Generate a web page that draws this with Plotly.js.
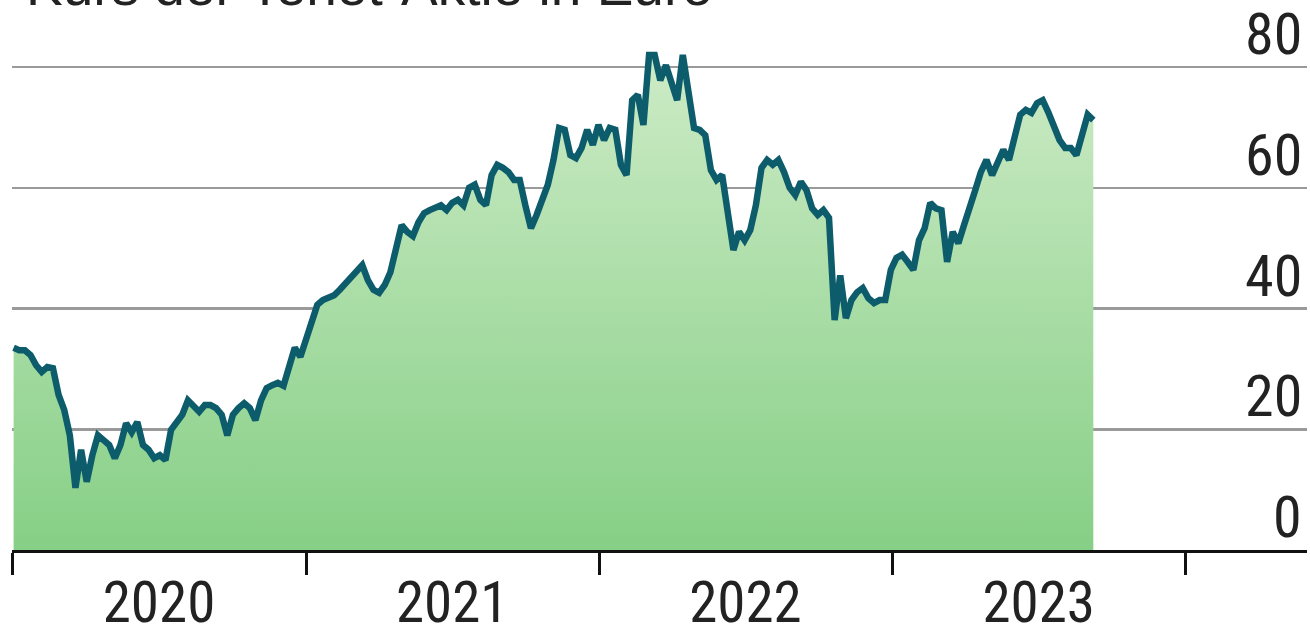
<!DOCTYPE html>
<html>
<head>
<meta charset="utf-8">
<script src="https://cdn.plot.ly/plotly-3.0.1.min.js"></script>
<style>html,body{margin:0;padding:0;background:#fff;}#chart{width:1310px;height:628px;}</style>
</head>
<body>
<div id="chart"></div>
<script>
// Weekly closing prices (Euro), first week ending 2020-01-03
const firstWeek = '2020-01-03';
const prices2020 = [33.5,33.1,33.1,32.3,30.6,29.5,30.3,30.1,25.7,23.2,19.0,10.3,16.6,11.3,15.7,19.0,18.2,17.4,15.2,17.4,21.0,19.5,21.2,17.4,16.6,15.2,15.7,14.9,19.9,21.2,22.4,24.8,24.0,22.9,24.0,24.0,23.5,22.4,19.0,22.4,23.5,24.3,23.5,21.5,24.8,26.8,27.3,27.7,27.2,30.6,33.5,32.0];
const prices2021 = [34.8,37.8,40.6,41.4,41.7,42.2,43.1,44.2,45.1,46.0,47.2,44.7,43.1,42.6,43.9,46.0,49.7,53.8,52.7,52.0,54.3,55.8,56.3,56.6,57.1,56.3,57.5,58.0,57.1,60.0,60.5,58.0,57.1,62.1,63.8,63.3,62.6,61.3,61.3,57.1,53.3,55.5,58.3,60.5,64.6,69.9,69.6,65.4,64.9,66.6,69.6,67.1];
const prices2022 = [70.4,67.9,69.9,69.6,63.8,62.1,74.5,75.4,70.4,82.0,82.0,77.8,80.3,77.0,74.5,82.0,75.4,69.9,69.6,68.7,62.9,61.3,62.1,56.3,49.7,52.7,51.3,53.0,57.1,63.3,64.6,63.8,64.6,62.6,60.0,58.8,61.0,59.6,56.6,55.5,56.3,55.0,38.1,45.5,38.4,41.4,42.7,43.4,41.7,40.9,41.4,41.4];
const prices2023 = [46.4,48.4,48.9,47.7,46.4,51.3,53.3,57.5,56.6,56.3,47.7,52.7,50.8,53.8,57.1,59.6,62.6,64.6,62.1,64.3,66.3,64.6,67.9,72.1,72.9,72.4,74.0,74.5,72.5,69.9,67.9,66.6,66.6,65.4,68.7,72.1,71.2];
const yearStarts = ['2020-01-01','2021-01-01','2022-01-01','2023-01-01','2024-01-01'];
const yearLabelDates = ['2020-07-02','2021-07-02','2022-07-02','2023-07-02'];
const yearLabels = ['2020','2021','2022','2023'];
const yTicks = [0,20,40,60,80];
const titleText = 'Kurs der Tenet-Aktie in Euro';

const prices = prices2020.concat(prices2021, prices2022, prices2023);
const dates = [];
const d0 = new Date(firstWeek + 'T00:00:00Z');
for (let i = 0; i < prices.length; i++) {
  const d = new Date(d0.getTime() + i * 7 * 86400000);
  dates.push(d.toISOString().slice(0,10));
}

const FONT = '"Liberation Sans Narrow", "Arial Narrow", "Roboto Condensed", Roboto, sans-serif';
const TITLE_FONT = '"Liberation Sans", Arial, sans-serif';
const TXT = '#222';

const trace = {
  x: dates, y: prices, type: 'scatter', mode: 'lines',
  line: {color: '#0d5c6c', width: 6.5},
  fill: 'tozeroy',
  fillgradient: {type: 'vertical', start: 0, stop: 82, colorscale: [[0, '#86cf86'], [1, '#cdebc6']]},
  hoverinfo: 'x+y'
};
const dummy = {x: yearLabelDates, y: [0,0,0,0], xaxis: 'x2', type: 'scatter', mode: 'markers', marker: {opacity: 0}, hoverinfo: 'skip'};

const annotations = [{
  text: titleText, xref: 'paper', yref: 'paper', x: 0, y: 1,
  xanchor: 'left', yanchor: 'bottom', xshift: 12, yshift: -19,
  showarrow: false, font: {family: TITLE_FONT, size: 55, color: TXT}
}];
yTicks.forEach(v => annotations.push({
  text: String(v), xref: 'paper', yref: 'y', x: 1, y: v,
  xanchor: 'right', yanchor: 'bottom', xshift: -3, yshift: -3,
  showarrow: false, font: {family: FONT, size: 58, color: TXT}
}));

const layout = {
  width: 1310, height: 628,
  margin: {l: 12, r: 3, t: 0, b: 78},
  paper_bgcolor: '#fff', plot_bgcolor: '#fff',
  showlegend: false,
  font: {family: FONT, color: TXT, size: 58},
  xaxis: {
    type: 'date', range: ['2020-01-01', '2024-05-31'],
    tickmode: 'array', tickvals: yearStarts, ticktext: yearStarts.map(() => ''),
    ticks: 'outside', ticklen: 22, tickwidth: 3, tickcolor: '#111',
    showline: true, linecolor: '#111', linewidth: 3,
    showgrid: false, zeroline: false, fixedrange: true
  },
  xaxis2: {
    type: 'date', overlaying: 'x', anchor: 'y', side: 'bottom', matches: 'x',
    range: ['2020-01-01', '2024-05-31'],
    tickmode: 'array', tickvals: yearLabelDates, ticktext: yearLabels,
    ticks: 'outside', ticklen: 3, tickcolor: 'rgba(0,0,0,0)',
    tickfont: {family: FONT, size: 57, color: TXT},
    showline: false, showgrid: false, zeroline: false
  },
  yaxis: {
    range: [0, 91.1], side: 'right',
    tickmode: 'array', tickvals: yTicks, showticklabels: false,
    showgrid: true, gridcolor: '#9a9a9a', gridwidth: 2.5,
    zeroline: false, showline: false, ticks: '', fixedrange: true
  },
  annotations: annotations
};

Plotly.newPlot('chart', [trace, dummy], layout, {displayModeBar: false, staticPlot: true});
</script>
</body>
</html>
